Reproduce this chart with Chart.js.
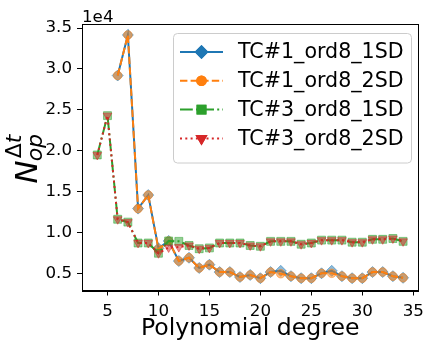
<!DOCTYPE html>
<html>
<head>
<meta charset="utf-8">
<script src="https://cdn.jsdelivr.net/npm/chart.js@4.4.1/dist/chart.umd.min.js"></script>
<style>
html,body{margin:0;padding:0;background:#fff;}
canvas{display:block;}
</style>
</head>
<body>
<canvas id="c" width="430" height="347"></canvas>
<script>
// ---- data ----
const degrees = [4,5,6,7,8,9,10,11,12,13,14,15,16,17,18,19,20,21,22,23,24,25,26,27,28,29,30,31,32,33,34];
const tc1_ord8_1SD = [null,null,29200,34150,12950,14600,8100,9000,6550,6950,5700,6100,5200,5200,4600,4850,4450,5200,5350,4700,4450,4450,5050,5350,4700,4450,4450,5200,5200,4700,4500];
const tc1_ord8_2SD = [null,null,29200,34150,12950,14600,8000,9000,6550,6950,5700,6100,5200,5200,4600,4850,4450,5200,5000,4700,4450,4450,5050,5050,4700,4450,4450,5200,5200,4700,4500];
const tc3_ord8_1SD = [19500,24300,11650,11300,8750,8750,7500,9000,8950,8450,8050,8150,8750,8750,8750,8450,8350,8950,8950,8950,8600,8750,9100,9100,9100,8850,8850,9200,9200,9300,8950];
const tc3_ord8_2SD = [19500,24300,11650,11300,8750,8750,7500,8200,8250,8450,8050,8150,8750,8750,8750,8450,8350,8950,8950,8950,8600,8750,9100,9100,9100,8850,8850,9200,9200,9300,8950];
const seriesNames = ['TC#1_ord8_1SD','TC#1_ord8_2SD','TC#3_ord8_1SD','TC#3_ord8_2SD'];
const xTickValues = [5,10,15,20,25,30,35];
const yTickValues = [5000,10000,15000,20000,25000,30000,35000];
const xLabel = 'Polynomial degree';
const offsetText = '1e4';

const FONT = "'DejaVu Sans', sans-serif";
function pts(arr){ const o=[]; arr.forEach((v,i)=>{ if(v!==null) o.push({x:degrees[i], y:v}); }); return o; }

const styles = [
  {color:'#1f77b4', fill:'rgba(31,119,180,0.5)', dash:[], point:'rectRot', r:5.5, rot:0},
  {color:'#ff7f0e', fill:'rgba(255,127,14,0.5)', dash:[7.4,3.2], point:'circle', r:4.3, rot:0},
  {color:'#2ca02c', fill:'rgba(44,160,44,0.5)', dash:[12.8,3.2,2,3.2], point:'rect', r:5.6, rot:0},
  {color:'#d62728', fill:'rgba(214,39,40,0.5)', dash:[2,3.3], point:'triangle', r:5, rot:180}
];
const allData = [tc1_ord8_1SD, tc1_ord8_2SD, tc3_ord8_1SD, tc3_ord8_2SD];

const datasets = allData.map((arr,i)=>({
  label: seriesNames[i],
  data: pts(arr),
  borderColor: styles[i].color,
  borderWidth: 2,
  borderDash: styles[i].dash,
  backgroundColor: styles[i].fill,
  pointStyle: styles[i].point,
  pointRadius: styles[i].r,
  pointRotation: styles[i].rot,
  pointBackgroundColor: styles[i].fill,
  pointBorderColor: styles[i].fill,
  pointBorderWidth: 1,
  tension: 0,
  fill: false,
  order: 4 - i
}));

const decor = {
  id: 'decor',
  afterDatasetsDraw(chart){
    const ctx = chart.ctx, a = chart.chartArea;
    ctx.save();
    // frame
    ctx.strokeStyle = '#000'; ctx.lineWidth = 1; ctx.setLineDash([]);
    ctx.strokeRect(Math.round(a.left)+0.5, Math.round(a.top)+0.5, Math.round(a.right-a.left), Math.round(a.bottom-a.top));
    // offset text
    ctx.fillStyle = '#000';
    ctx.font = '16.7px ' + FONT;
    ctx.textAlign = 'left'; ctx.textBaseline = 'alphabetic';
    ctx.fillText(offsetText, a.left, 21.5);
    // y label  N_op^{Δt}
    const cy = (a.top + a.bottom)/2;
    ctx.translate(0, cy);
    ctx.rotate(-Math.PI/2);
    const big = 31, small = 22;
    ctx.font = 'italic ' + big + 'px ' + FONT;
    const wN = ctx.measureText('N').width;
    ctx.font = 'italic ' + small + 'px ' + FONT;
    const wop = ctx.measureText('op').width;
    ctx.font = small + 'px ' + FONT;
    const wD = ctx.measureText('Δ').width;
    ctx.font = 'italic ' + small + 'px ' + FONT;
    const wt = ctx.measureText('t').width;
    const total = wN + Math.max(wop, wD+wt) + 2;
    let u = -total/2;
    const base = 37;
    ctx.font = 'italic ' + big + 'px ' + FONT;
    ctx.fillText('N', u, base);
    u += wN + 1;
    ctx.font = 'italic ' + small + 'px ' + FONT;
    ctx.fillText('op', u - 2, base + 5);
    ctx.font = small + 'px ' + FONT;
    ctx.fillText('Δ', u + 1, base - 16);
    ctx.font = 'italic ' + small + 'px ' + FONT;
    ctx.fillText('t', u + 1 + wD, base - 16);
    ctx.restore();

    // legend
    ctx.save();
    const bx = 173.5, by = 33.5, bw = 238, bh = 129.5, rr = 4;
    ctx.beginPath();
    ctx.moveTo(bx+rr, by); ctx.lineTo(bx+bw-rr, by); ctx.arcTo(bx+bw, by, bx+bw, by+rr, rr);
    ctx.lineTo(bx+bw, by+bh-rr); ctx.arcTo(bx+bw, by+bh, bx+bw-rr, by+bh, rr);
    ctx.lineTo(bx+rr, by+bh); ctx.arcTo(bx, by+bh, bx, by+bh-rr, rr);
    ctx.lineTo(bx, by+rr); ctx.arcTo(bx, by, bx+rr, by, rr); ctx.closePath();
    ctx.fillStyle = 'rgba(255,255,255,0.8)'; ctx.fill();
    ctx.strokeStyle = '#cccccc'; ctx.lineWidth = 1; ctx.stroke();
    chart.data.datasets.forEach((ds,i)=>{
      const yc = 52 + i*28.8;
      const st = styles[i];
      ctx.beginPath();
      ctx.setLineDash(st.dash);
      ctx.strokeStyle = st.color; ctx.lineWidth = 2;
      ctx.moveTo(180, yc); ctx.lineTo(223, yc); ctx.stroke();
      ctx.setLineDash([]);
      Chart.helpers.drawPoint(ctx, {pointStyle: st.point, rotation: st.rot, radius: st.r, borderWidth: 1}, 201.5, yc);
      ctx.fillStyle = st.color; ctx.strokeStyle = st.color;
      ctx.fill(); ctx.stroke();
      ctx.fillStyle = '#000';
      ctx.font = '20.6px ' + FONT;
      ctx.textAlign = 'left'; ctx.textBaseline = 'middle';
      ctx.fillText(ds.label, 238, yc + 1);
    });
    ctx.restore();
  }
};

new Chart(document.getElementById('c'), {
  type: 'line',
  data: { datasets },
  options: {
    responsive: false,
    animation: false,
    devicePixelRatio: 1,
    layout: { padding: { top: 24, right: 6, left: 0, bottom: 0 } },
    plugins: { legend: { display: false }, tooltip: { enabled: false }, title: { display: false } },
    scales: {
      x: {
        type: 'linear', min: 2.5, max: 35.5,
        afterFit(s){ s.height = 56.5; },
        afterBuildTicks(s){ s.ticks = xTickValues.map(v=>({value:v})); },
        grid: { display: true, drawOnChartArea: false, drawTicks: true, tickLength: 5, color: '#000', lineWidth: 1 },
        border: { display: true, color: '#000', width: 1 },
        ticks: { color: '#000', font: { family: FONT, size: 16.7 }, padding: 6, maxRotation: 0, autoSkip: false },
        title: { display: true, text: xLabel, color: '#000', font: { family: FONT, size: 23.6 }, padding: { top: 0, bottom: 4 } }
      },
      y: {
        type: 'linear', min: 2950, max: 35490,
        afterFit(s){ s.width = 82; },
        afterBuildTicks(s){ s.ticks = yTickValues.map(v=>({value:v})); },
        grid: { display: true, drawOnChartArea: false, drawTicks: true, tickLength: 5, color: '#000', lineWidth: 1 },
        border: { display: true, color: '#000', width: 1 },
        ticks: { color: '#000', font: { family: FONT, size: 16.7 }, padding: 5, autoSkip: false,
          callback: v => (v/10000).toFixed(1) }
      }
    }
  },
  plugins: [decor]
});
</script>
</body>
</html>
